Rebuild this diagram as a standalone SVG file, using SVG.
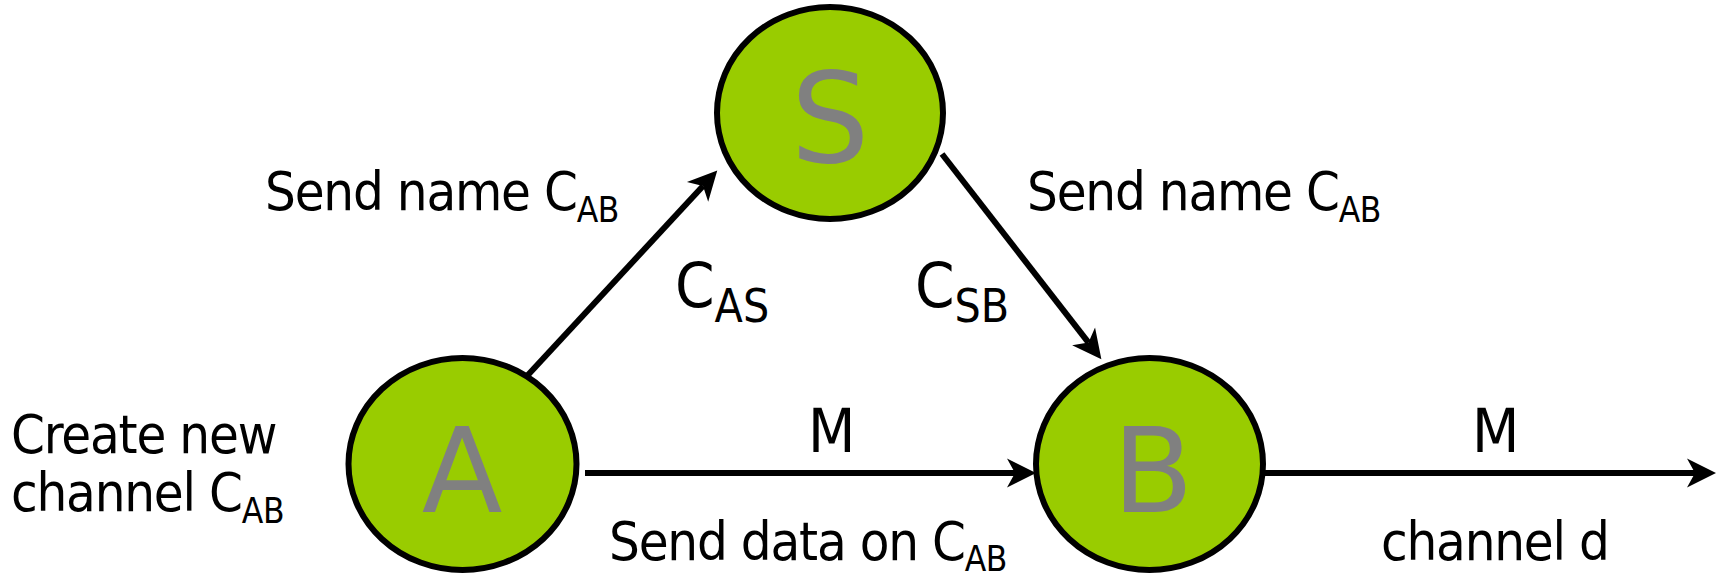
<svg xmlns="http://www.w3.org/2000/svg" width="1721" height="576" viewBox="0 0 1721 576">
<style>
.node{fill:#99cc00;stroke:#000;stroke-width:6}
.letter{font-family:"DejaVu Sans",sans-serif;fill:#808080;text-anchor:middle}
.lbl{font-family:"DejaVu Sans Condensed","DejaVu Sans",sans-serif;fill:#000}
.small{font-size:54px;letter-spacing:-1.2px}
.sub{font-size:35px;letter-spacing:-0.5px}
.conn{stroke:#000;stroke-width:6;fill:none;marker-end:url(#arr)}
</style>
<defs>
<marker id="arr" markerUnits="userSpaceOnUse" markerWidth="40" markerHeight="40" viewBox="-2 -20 40 40" refX="8" refY="0" orient="auto">
<path d="M0,-14.5 L29,0 L0,14.5 L8,0 Z" fill="#000"/>
</marker>
</defs>
<g id="connectors">
<line class="conn" x1="527" y1="376" x2="703" y2="186"/>
<line class="conn" x1="942" y1="154" x2="1088.5" y2="342.6"/>
<line class="conn" x1="585" y1="473" x2="1015" y2="473"/>
<line class="conn" x1="1264" y1="473" x2="1695" y2="473"/>
</g>
<g id="node-S">
<ellipse class="node" cx="830" cy="113" rx="113" ry="106"/>
<text class="letter" x="830" y="162" font-size="124">S</text>
</g>
<g id="node-A">
<ellipse class="node" cx="462.5" cy="464" rx="114" ry="106"/>
<text class="letter" x="462" y="512" font-size="118">A</text>
</g>
<g id="node-B">
<ellipse class="node" cx="1149.5" cy="464" rx="113.5" ry="106"/>
<text class="letter" x="1153" y="512" font-size="118">B</text>
</g>
<g id="labels">
<text class="lbl small" x="265" y="210">Send name C<tspan class="sub" dy="12">AB</tspan></text>
<text class="lbl small" x="1027" y="210">Send name C<tspan class="sub" dy="12">AB</tspan></text>
<text class="lbl" x="675" y="307" font-size="63">C<tspan font-size="46" dy="15">AS</tspan></text>
<text class="lbl" x="915" y="307" font-size="63">C<tspan font-size="46" dy="15">SB</tspan></text>
<text class="lbl" x="808" y="452" font-size="61">M</text>
<text class="lbl" x="1472" y="452" font-size="61">M</text>
<text class="lbl small" x="609" y="560">Send data on C<tspan class="sub" dy="11">AB</tspan></text>
<text class="lbl small" x="1381" y="560">channel d</text>
<text class="lbl small" x="11" y="453">Create new</text>
<text class="lbl small" x="11" y="511">channel C<tspan class="sub" dy="12">AB</tspan></text>
</g>
</svg>
